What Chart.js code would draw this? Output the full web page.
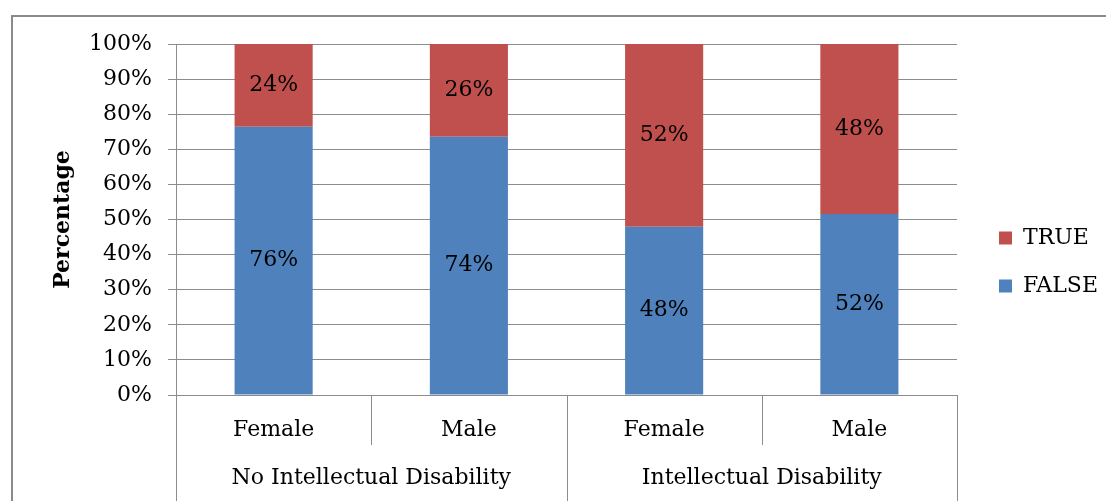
<!DOCTYPE html>
<html>
<head>
<meta charset="utf-8">
<script src="https://cdn.jsdelivr.net/npm/chart.js@4/dist/chart.umd.min.js"></script>
<style>
  html, body { margin: 0; padding: 0; background: #fff; overflow: hidden; }
</style>
</head>
<body>
<canvas id="grafico" width="1106" height="501"></canvas>
<script>
const categorias = ["Female", "Male", "Female", "Male"];
const grupos = ["No Intellectual Disability", "Intellectual Disability"];
const valoresFalse = [76.4, 73.6, 47.9, 51.6];
const valoresTrue = [23.6, 26.4, 52.1, 48.4];
const ticksY = [0, 10, 20, 30, 40, 50, 60, 70, 80, 90, 100];

const FONTE = "'DejaVu Serif', serif";
const CINZA = "#8c8c8c";

// moldura externa (só topo e esquerda aparecem)
const moldura = {
  id: "moldura",
  beforeDraw(chart) {
    const ctx = chart.ctx;
    ctx.save();
    ctx.strokeStyle = "#8a8a8a";
    ctx.lineWidth = 2;
    ctx.beginPath();
    ctx.moveTo(12, chart.height);
    ctx.lineTo(12, 16);
    ctx.lineTo(chart.width, 16);
    ctx.stroke();
    ctx.restore();
  }
};

// espaço entre a área do gráfico e a legenda
const espacador = {
  id: "espacador",
  beforeInit(chart) {
    Chart.layouts.addBox(chart, {
      position: "right",
      weight: 500,
      fullSize: false,
      options: {},
      left: 0, top: 0, right: 0, bottom: 0, width: 0, height: 0,
      isHorizontal() { return false; },
      update(maxWidth, maxHeight) { this.width = 16; this.height = maxHeight; },
      draw() {}
    });
  }
};

// rótulos de valor no centro de cada segmento
const rotulos = {
  id: "rotulos",
  afterDatasetsDraw(chart) {
    const ctx = chart.ctx;
    ctx.save();
    ctx.font = "22px " + FONTE;
    ctx.fillStyle = "#000";
    ctx.textAlign = "center";
    ctx.textBaseline = "middle";
    chart.data.datasets.forEach((ds, i) => {
      chart.getDatasetMeta(i).data.forEach((el, j) => {
        ctx.fillText(Math.round(ds.data[j]) + "%", el.x, (el.y + el.base) / 2);
      });
    });
    ctx.restore();
  }
};

// linhas separadoras e rótulos de grupo no eixo x
const eixoGrupos = {
  id: "eixoGrupos",
  afterDraw(chart) {
    const ctx = chart.ctx;
    const x = chart.scales.x;
    const topo = chart.chartArea.bottom;
    const meia = (x.getPixelForValue(1) - x.getPixelForValue(0)) / 2;
    ctx.save();
    ctx.strokeStyle = CINZA;
    ctx.lineWidth = 1;
    for (let i = 0; i <= categorias.length; i++) {
      const px = Math.round(x.getPixelForValue(0) - meia + i * 2 * meia) + 0.5;
      const fim = i % 2 === 0 ? chart.height : topo + 50;
      ctx.beginPath();
      ctx.moveTo(px, topo);
      ctx.lineTo(px, fim);
      ctx.stroke();
    }
    ctx.font = "22px " + FONTE;
    ctx.fillStyle = "#000";
    ctx.textAlign = "center";
    ctx.textBaseline = "middle";
    grupos.forEach((g, k) => {
      const cx = (x.getPixelForValue(2 * k) + x.getPixelForValue(2 * k + 1)) / 2;
      ctx.fillText(g, cx, topo + 83);
    });
    ctx.restore();
  }
};

new Chart(document.getElementById("grafico"), {
  type: "bar",
  data: {
    labels: categorias,
    datasets: [
      { label: "FALSE", data: valoresFalse, backgroundColor: "#4f81bd" },
      { label: "TRUE", data: valoresTrue, backgroundColor: "#c0504d" }
    ]
  },
  options: {
    responsive: false,
    animation: false,
    datasets: { bar: { categoryPercentage: 1, barPercentage: 0.4 } },
    layout: { padding: { left: 40, top: 44, right: -2, bottom: 21 } },
    plugins: {
      legend: {
        position: "right",
        reverse: true,
        labels: {
          boxWidth: 13,
          boxHeight: 13,
          padding: 26,
          color: "#000",
          font: { family: FONTE, size: 22 }
        }
      },
      tooltip: { enabled: false }
    },
    scales: {
      x: {
        stacked: true,
        grid: { display: false },
        border: { display: true, color: CINZA },
        ticks: { color: "#000", padding: 14, font: { family: FONTE, size: 22 } },
        afterFit: s => { s.height = 85; }
      },
      y: {
        stacked: true,
        min: 0,
        max: 100,
        afterBuildTicks: s => { s.ticks = ticksY.map(v => ({ value: v })); },
        grid: { color: CINZA, tickLength: 8 },
        border: { color: CINZA },
        ticks: {
          color: "#000",
          padding: 16,
          font: { family: FONTE, size: 22 },
          callback: v => v + "%"
        },
        title: {
          display: true,
          text: "Percentage",
          color: "#000",
          padding: { top: 10, bottom: 0 },
          font: { family: FONTE, size: 22, weight: "bold" }
        },
        afterFit: s => { s.width = 136; }
      }
    }
  },
  plugins: [moldura, espacador, rotulos, eixoGrupos]
});
</script>
</body>
</html>
